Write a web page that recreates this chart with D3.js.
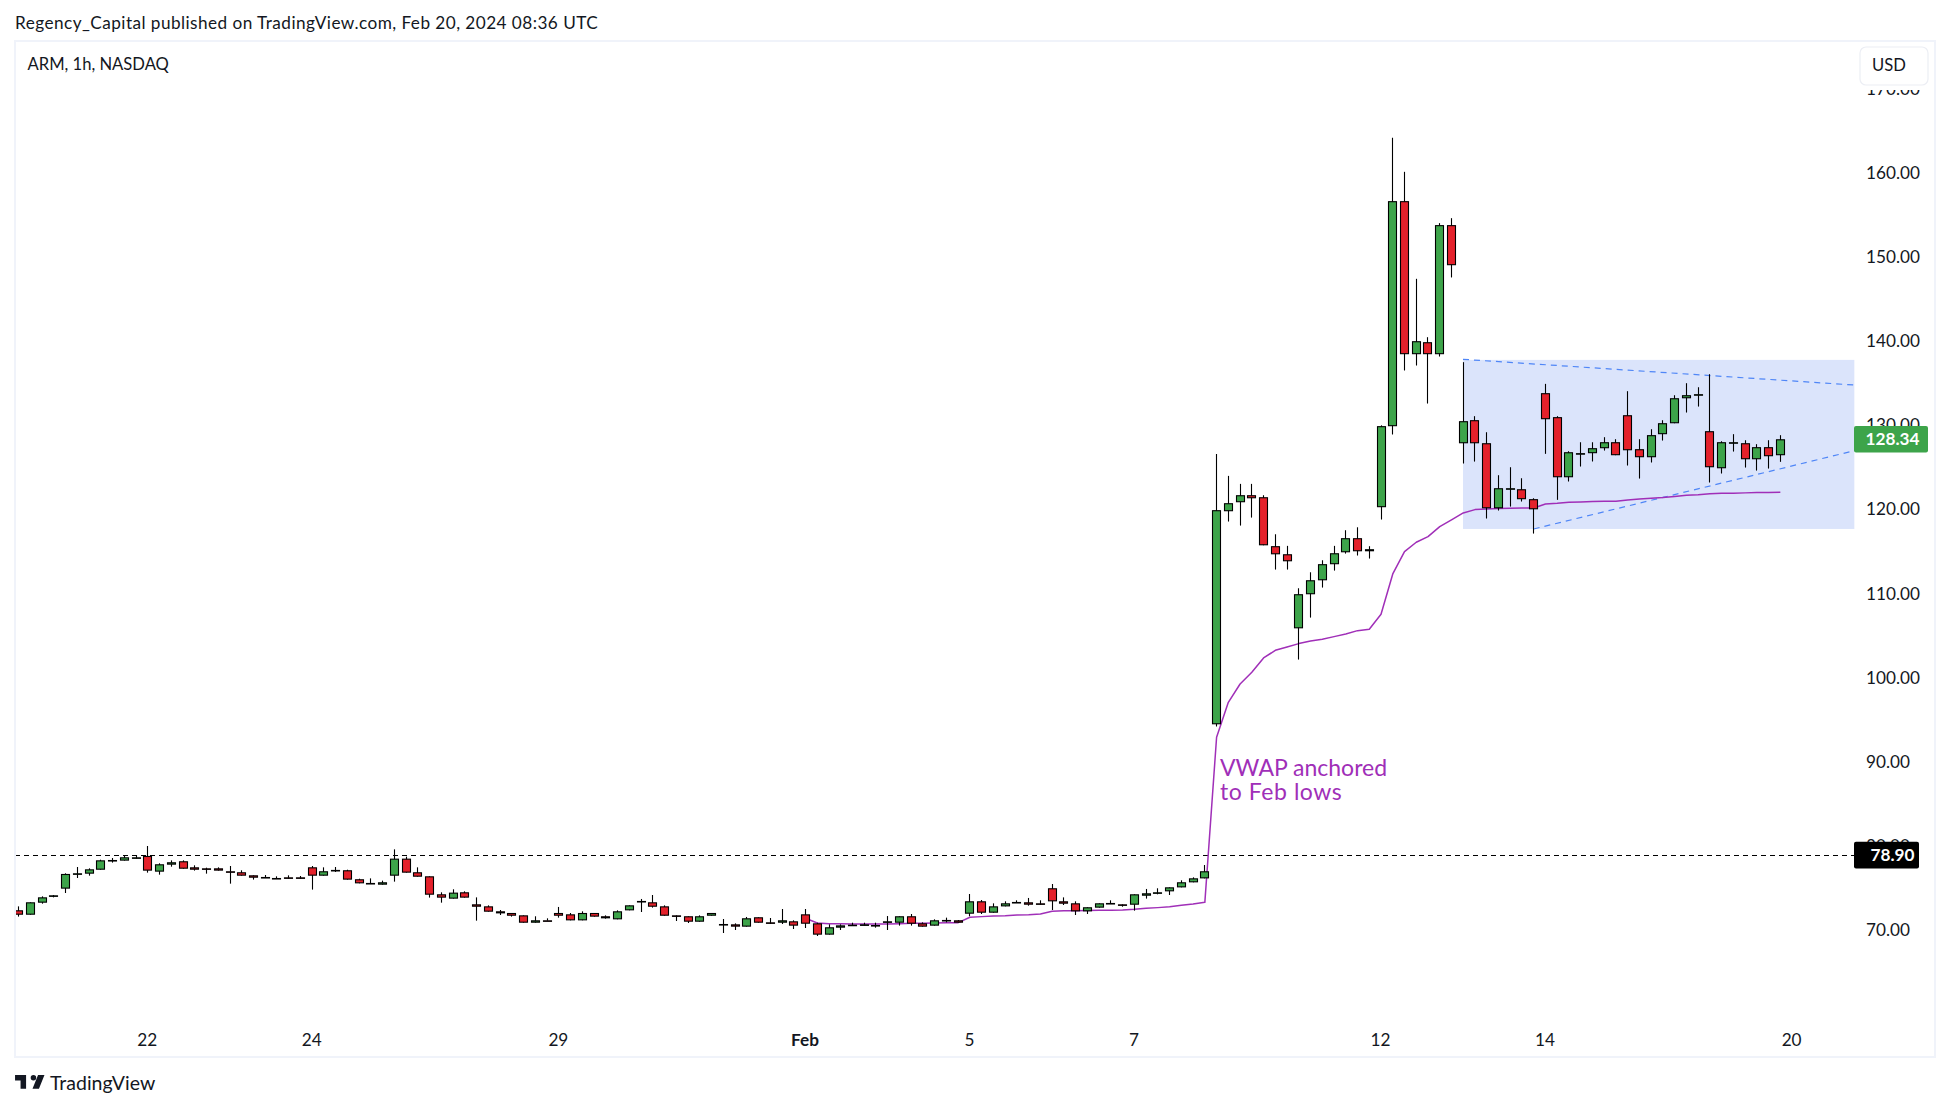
<!DOCTYPE html>
<html>
<head>
<meta charset="utf-8">
<script src="https://cdn.jsdelivr.net/npm/d3@7"></script>
<style>
  html, body { margin: 0; padding: 0; background: #fff; }
  svg { display: block; }
  text { font-family: Lato, "Noto Sans", sans-serif; fill: #131722; }
</style>
</head>
<body>
<svg id="chart" width="1950" height="1110"></svg>
<script>
// hourly ARM candles, oldest first
const opens = [72.34,71.82,73.25,73.96,74.92,76.58,76.70,77.17,78.25,78.25,78.56,78.80,76.94,77.77,78.17,77.45,77.33,77.33,76.98,76.86,
  76.50,76.30,76.18,76.26,76.26,77.45,76.46,77.02,77.10,76.03,75.59,75.39,76.46,78.48,76.86,76.38,74.24,73.73,74.48,73.05,
  72.81,72.22,72.02,71.74,70.87,71.15,72.02,71.86,71.15,72.02,71.63,71.27,72.34,73.37,73.29,72.81,71.74,71.63,70.99,71.70,
  70.63,70.67,70.40,71.51,70.91,70.87,71.03,71.86,70.79,69.45,70.28,70.52,70.59,70.59,70.87,70.87,71.63,70.79,70.52,71.11,
  71.15,71.94,73.41,72.06,72.81,73.25,73.29,73.17,74.96,73.41,73.17,72.22,72.66,73.13,73.05,73.01,74.08,74.40,74.60,75.07,
  75.67,76.14,94.46,119.79,120.86,121.69,121.45,115.63,114.67,105.87,109.92,111.58,113.49,114.91,116.58,115.03,120.27,129.90,156.65,138.46,
  139.88,138.46,153.80,127.87,130.61,127.87,120.14,122.36,122.40,121.22,133.82,130.97,123.83,126.61,126.69,127.28,127.99,131.20,127.16,126.21,
  128.95,130.25,133.22,133.66,129.30,124.90,127.87,127.87,125.97,127.40,126.45];
const highs = [72.81,73.29,74.00,74.16,76.74,77.49,77.33,78.36,78.56,78.84,78.88,79.99,77.93,78.28,78.28,77.69,77.41,77.45,77.61,77.10,
  76.50,76.54,76.38,76.50,76.42,77.61,77.45,77.49,77.17,76.10,76.14,75.87,79.59,78.72,77.45,76.38,74.48,74.84,74.60,73.88,
  72.93,72.38,72.02,71.74,71.63,71.39,72.74,72.02,72.22,72.02,71.74,72.34,72.93,73.69,74.16,72.93,71.74,71.63,71.74,72.02,
  71.31,70.79,71.55,71.51,71.43,72.50,71.15,72.50,70.87,70.67,70.67,70.87,70.87,70.87,71.66,71.63,71.90,70.91,71.27,71.47,
  71.19,74.28,73.57,73.17,73.41,73.53,73.81,73.53,75.47,73.88,73.41,72.70,73.17,73.53,73.05,74.24,74.88,74.96,75.07,75.91,
  76.26,77.73,126.60,123.99,123.04,123.04,121.69,117.05,115.67,110.63,112.53,113.96,115.67,117.53,117.88,115.63,130.00,164.19,160.14,147.42,
  140.48,154.04,154.63,137.51,131.09,129.18,124.07,125.02,123.71,121.33,134.93,131.09,126.92,127.99,127.99,128.59,128.35,134.06,128.35,129.54,
  130.61,133.58,135.01,134.53,136.08,128.11,128.95,128.23,127.76,128.23,128.83];
const lows = [71.59,71.82,73.13,73.88,74.40,76.18,76.46,77.17,78.01,78.25,78.48,76.82,76.58,77.53,77.29,77.06,76.70,77.06,75.51,76.46,
  75.99,76.18,76.10,76.10,76.10,74.80,76.46,76.90,75.99,75.55,75.51,75.39,75.75,76.82,76.34,73.85,73.25,73.73,73.85,71.11,
  72.18,71.78,71.59,70.87,70.87,71.11,71.47,71.15,71.15,71.59,71.35,71.27,72.34,72.14,72.66,71.70,71.07,70.83,70.99,71.70,
  69.64,70.00,70.40,70.87,70.71,70.71,70.12,70.24,69.29,69.45,70.00,70.52,70.52,70.28,70.00,70.52,70.52,70.40,70.52,70.91,
  70.87,71.63,71.90,72.06,72.81,73.25,72.89,73.01,72.38,72.97,71.78,71.90,72.66,73.13,72.77,72.30,73.73,74.24,74.16,75.07,
  75.67,76.14,94.20,118.56,118.08,119.03,115.74,112.85,112.85,102.15,107.14,110.71,112.73,114.75,114.52,114.16,118.80,128.90,136.52,137.11,
  132.59,138.18,147.58,125.46,125.69,118.92,119.87,120.34,120.94,117.13,126.61,121.14,123.32,125.10,125.70,127.00,126.45,125.22,123.67,125.58,
  128.19,130.25,131.52,132.23,123.20,124.27,126.88,124.98,124.62,124.86,125.66];
const closes = [71.82,73.29,73.88,74.12,76.66,76.74,77.21,78.28,78.32,78.64,78.64,77.06,77.81,78.05,77.29,77.17,77.21,77.06,76.82,76.46,
  76.22,76.22,76.10,76.10,76.18,76.46,76.98,77.14,75.99,75.55,75.51,75.67,78.48,76.82,76.34,74.20,73.85,74.44,73.85,72.77,
  72.18,71.98,71.70,70.87,71.15,71.11,71.70,71.15,72.02,71.59,71.39,72.22,72.93,73.45,72.77,71.70,71.59,70.99,71.63,72.02,
  70.71,70.40,71.39,70.87,70.83,71.15,70.52,70.75,69.45,70.32,70.55,70.63,70.67,70.52,71.03,71.63,70.75,70.40,71.15,71.19,
  70.87,73.41,72.06,72.81,73.17,73.33,73.01,73.01,73.41,73.13,72.22,72.70,73.17,73.21,72.89,74.24,74.36,74.48,75.07,75.67,
  76.14,76.98,119.91,120.74,121.69,121.33,115.74,114.67,113.84,109.92,111.58,113.49,114.79,116.58,115.03,115.27,129.90,156.65,138.46,140.00,
  138.46,153.80,149.04,130.49,127.87,120.14,122.52,122.52,121.22,120.02,130.73,123.83,126.80,126.69,127.28,127.99,126.45,127.04,126.21,128.83,
  130.25,133.22,133.58,133.70,125.02,127.99,127.99,125.97,127.40,126.33,128.34];

// anchored vwap starts on bar 67 (Feb 1)
const vwapStart = 67;
const vwap = [71.39,70.83,70.75,70.73,70.71,70.71,70.71,70.71,70.75,70.79,70.81,70.83,70.85,70.87,71.51,71.59,71.66,71.70,71.78,71.82,
  71.90,72.22,72.28,72.30,72.32,72.34,72.36,72.38,72.46,72.58,72.66,72.77,72.93,73.09,73.29,92.91,97.07,99.25,100.64,102.34,
  103.25,103.65,104.05,104.36,104.56,104.88,105.20,105.59,105.75,107.53,112.33,114.99,116.10,116.77,117.96,118.75,119.58,119.98,120.06,120.10,
  120.14,120.18,120.18,120.65,120.73,120.85,120.89,120.93,120.97,120.97,121.13,121.25,121.33,121.41,121.53,121.68,121.76,121.88,121.92,121.94,
  121.97,122.00,122.02,122.04];

const priceTicks = [70, 80, 90, 100, 110, 120, 130, 140, 150, 160, 170];
const dateTicks = [11, 25, 46, 67, 81, 95, 116, 130, 151];
const dateLabels = ["22", "24", "29", "Feb", "5", "7", "12", "14", "20"];

const lastClose = 128.34;
const refLevel = 78.90;
// drawings: [bar index, price]
const boxCorners = [[122.98, 137.78], [156.3, 117.68]];
const upperTrend = [[122.98, 137.85], [156.2, 134.8]];
const lowerTrend = [[129, 117.68], [156.2, 126.95]];

const upColor = "#3da44a", downColor = "#e4212b", vwapColor = "#a02fb8";
const paneL = 15, paneT = 41, paneR = 1935, paneB = 1057;

const svg = d3.select("#chart");
const x = d3.scaleLinear().domain([0, 151]).range([18.6, 18.6 + 151 * 11.745]);
const y = d3.scaleLinear().domain([70, 160]).range([930, 173]);
const crisp = v => Math.floor(v) + 0.5;

svg.append("defs").append("clipPath").attr("id", "pane").append("rect")
  .attr("x", paneL).attr("y", paneT).attr("width", paneR - paneL).attr("height", paneB - paneT);

// header
svg.append("text").attr("x", 15).attr("y", 29).attr("font-size", 17.2).style("letter-spacing", "0.45px")
  .text("Regency_Capital published on TradingView.com, Feb 20, 2024 08:36 UTC");

// price axis goes under the labels and pane furniture
const yAxis = svg.append("g").attr("transform", "translate(1866,0)")
  .call(d3.axisRight(y).tickValues(priceTicks).tickSize(0).tickPadding(0).tickFormat(d3.format(".2f")));
yAxis.select(".domain").remove();
yAxis.selectAll("text").attr("font-size", 17.2).attr("font-family", "Lato, sans-serif").attr("fill", "#131722");

const xAxis = svg.append("g").attr("transform", "translate(-1,1034)")
  .call(d3.axisBottom(x).tickValues(dateTicks).tickSize(0).tickPadding(0).tickFormat((d, i) => dateLabels[i]));
xAxis.select(".domain").remove();
xAxis.selectAll("text").attr("font-size", 17.2).attr("font-family", "Lato, sans-serif").attr("fill", "#131722")
  .style("font-weight", d => d === 67 ? 700 : 400);

const plot = svg.append("g").attr("clip-path", "url(#pane)");

plot.append("rect").attr("x", x(boxCorners[0][0])).attr("y", y(boxCorners[0][1]))
  .attr("width", x(boxCorners[1][0]) - x(boxCorners[0][0]))
  .attr("height", y(boxCorners[1][1]) - y(boxCorners[0][1]))
  .attr("fill", "#dbe4fb");

const line = d3.line().x(d => x(d[0])).y(d => y(d[1]));
[upperTrend, lowerTrend].forEach(t => {
  plot.append("path").attr("d", line(t)).attr("fill", "none")
    .attr("stroke", "#4f86f7").attr("stroke-width", 1.2).attr("stroke-dasharray", "6 5");
});

plot.append("line").attr("x1", paneL).attr("x2", 1854)
  .attr("y1", crisp(y(refLevel))).attr("y2", crisp(y(refLevel)))
  .attr("stroke", "#000").attr("stroke-width", 1).attr("stroke-dasharray", "5 4");

plot.append("path").attr("d", line(vwap.map((v, i) => [vwapStart + i, v]))).attr("fill", "none")
  .attr("stroke", vwapColor).attr("stroke-width", 1.5).attr("stroke-linejoin", "round");

const bars = d3.range(opens.length);
plot.selectAll("line.wick").data(bars).join("line").attr("class", "wick")
  .attr("x1", i => crisp(x(i))).attr("x2", i => crisp(x(i)))
  .attr("y1", i => y(highs[i])).attr("y2", i => y(lows[i]))
  .attr("stroke", "#000").attr("stroke-width", 1.1);
plot.selectAll("rect.body").data(bars).join("rect").attr("class", "body")
  .attr("x", i => crisp(x(i)) - 4)
  .attr("width", 8)
  .attr("y", i => y(Math.max(opens[i], closes[i])) + 0.5)
  .attr("height", i => Math.max(0.5, Math.abs(y(opens[i]) - y(closes[i])) - 1))
  .attr("fill", i => closes[i] >= opens[i] ? upColor : downColor)
  .attr("stroke", "#000").attr("stroke-width", 1.1);

// annotation
const noteSpacing = [0, 0.55];
["VWAP anchored", "to Feb lows"].forEach((t, i) => {
  svg.append("text").attr("x", 1220).attr("y", 776 + i * 23.6).attr("font-size", 23)
    .style("fill", vwapColor).style("letter-spacing", noteSpacing[i] + "px").text(t);
});

// last price and reference labels
function priceTag(v, fill) {
  const g = svg.append("g");
  g.append("rect").attr("x", 1854).attr("y", y(v) - 13.3)
    .attr("width", fill === "#000" ? 65 : 74).attr("height", 26.6).attr("rx", 2).attr("fill", fill);
  g.append("text").attr("x", 1892.5).attr("y", y(v)).attr("dy", "0.35em").attr("text-anchor", "middle")
    .attr("font-size", 17.2).style("fill", "#fff").style("font-weight", 700).text(v.toFixed(2));
}
priceTag(refLevel, "#000");
priceTag(lastClose, upColor);

// pane frame
svg.append("rect").attr("x", paneL).attr("y", paneT).attr("width", paneR - paneL).attr("height", paneB - paneT)
  .attr("fill", "none").attr("stroke", "#f0f3fa").attr("stroke-width", 2);

svg.append("text").attr("x", 27.5).attr("y", 70).attr("font-size", 16.6).text("ARM, 1h, NASDAQ");

// currency button hides most of the 170 label
svg.append("rect").attr("x", 1858).attr("y", 45).attr("width", 72).attr("height", 45).attr("fill", "#fff");
svg.append("rect").attr("x", 1860).attr("y", 47).attr("width", 68).attr("height", 38).attr("rx", 6)
  .attr("fill", "#fff").attr("stroke", "#eceef4").attr("stroke-width", 1.2);
svg.append("text").attr("x", 1889).attr("y", 65).attr("dy", "0.35em").attr("text-anchor", "middle")
  .attr("font-size", 16.6).text("USD");

// footer logo
svg.append("path").attr("transform", "translate(13.2,1069.5) scale(0.92)")
  .attr("d", "M14 6H2v6h6v9h6V6zm14 15h-7l6-15h7l-6 15zm-6-9a3 3 0 1 0 0-6 3 3 0 0 0 0 6z")
  .attr("fill", "#131722");
svg.append("text").attr("x", 50).attr("y", 1090).attr("font-size", 19.5).text("TradingView");
</script>
</body>
</html>
